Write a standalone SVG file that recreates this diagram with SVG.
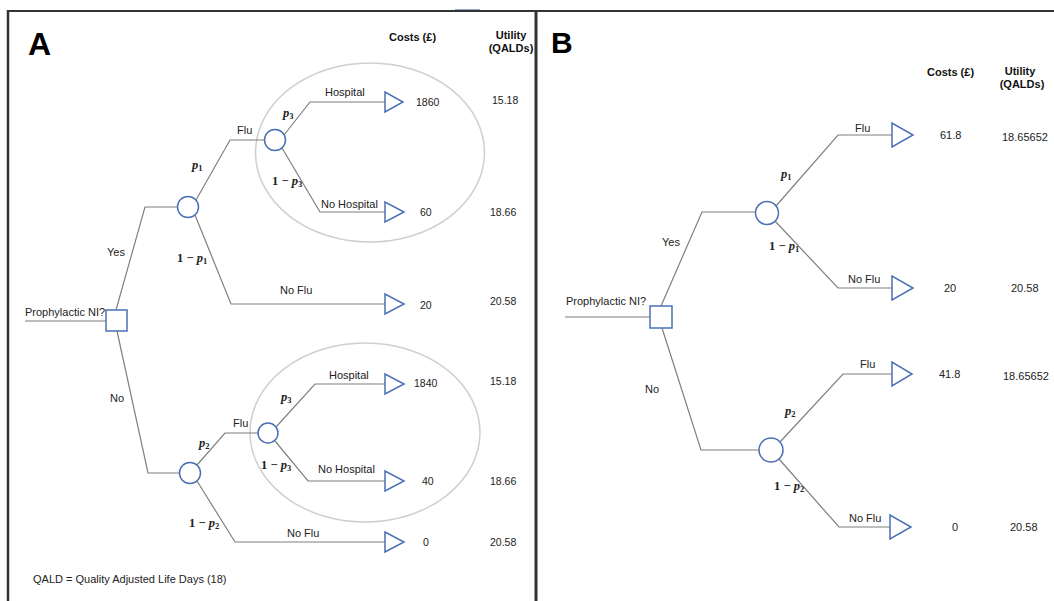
<svg xmlns="http://www.w3.org/2000/svg" width="1054" height="601" viewBox="0 0 1054 601">
<style>
.t{font-family:"Liberation Sans",Arial,sans-serif;font-size:11px;fill:#222}
.v{font-family:"Liberation Sans",Arial,sans-serif;font-size:10.5px;fill:#222}
.h{font-family:"Liberation Sans",Arial,sans-serif;font-size:11px;font-weight:bold;fill:#111}
.big{font-family:"Liberation Sans",Arial,sans-serif;font-weight:bold;fill:#000}
.m{font-family:"Liberation Serif","DejaVu Serif",serif;font-size:12.5px;font-weight:bold;fill:#222}
.m .i{font-style:italic}
.m .s{font-size:8.5px}
.c{fill:none;stroke:#7f7f7f;stroke-width:1.2}
.n{fill:#fff;stroke:#4a6fb5;stroke-width:1.5}
.e{fill:none;stroke:#cfcfcf;stroke-width:1.5}
.b{stroke:#333;fill:none}
</style>

<g id="frame">
<rect x="0" y="0" width="1054" height="601" fill="#fff"/>
<line class="b" x1="8" y1="11" x2="1054" y2="11" stroke-width="2"/>
<line class="b" x1="8" y1="10" x2="8" y2="601" stroke-width="2.5"/>
<line class="b" x1="536" y1="10" x2="536" y2="601" stroke-width="3"/>
<line x1="455" y1="9.5" x2="480" y2="9.5" stroke="#4a6fb5" stroke-width="1" opacity="0.6"/>
</g>

<!-- Panel A -->
<g id="A-ellipses">
<ellipse class="e" cx="370" cy="152.5" rx="114.5" ry="89.5"/>
<ellipse class="e" cx="365" cy="432.5" rx="115" ry="89.5"/>
</g>

<g id="A-connectors">
<polyline class="c" points="25,321 106,321"/>
<polyline class="c" points="116,310 145,207 177.5,207"/>
<polyline class="c" points="196,200 230,140 264.5,140"/>
<polyline class="c" points="284,135 310,102 385,102"/>
<polyline class="c" points="282,148 320,212 385,212"/>
<polyline class="c" points="195,215 231,304 385,304"/>
<polyline class="c" points="117,331 148,473 179.5,473"/>
<polyline class="c" points="197,465 225,433 258,433"/>
<polyline class="c" points="276,427 315,384 385,384"/>
<polyline class="c" points="275,441 308,481 385,481"/>
<polyline class="c" points="197,481 235,542 385,542"/>
</g>

<g id="A-decision"><rect class="n" x="106" y="310" width="21" height="21"/></g>
<g id="A-chance1"><circle class="n" cx="188" cy="207" r="10.5"/></g>
<g id="A-chance2"><circle class="n" cx="275" cy="140" r="10.5"/></g>
<g id="A-chance3"><circle class="n" cx="190" cy="473" r="10.5"/></g>
<g id="A-chance4"><circle class="n" cx="268" cy="433" r="10"/></g>
<g id="A-term1"><polygon class="n" points="385,92 385,112 403,102"/></g>
<g id="A-term2"><polygon class="n" points="385,202 385,222 404,212"/></g>
<g id="A-term3"><polygon class="n" points="385,294 385,314 404,304"/></g>
<g id="A-term4"><polygon class="n" points="385,374 385,394 404,384"/></g>
<g id="A-term5"><polygon class="n" points="385,471 385,491 404,481"/></g>
<g id="A-term6"><polygon class="n" points="385,532 385,552 404,542"/></g>

<g id="A-labels">
<text class="big" x="28" y="55" font-size="32">A</text>
<text class="h" x="389" y="41">Costs (£)</text>
<text class="h" x="511" y="39" text-anchor="middle">Utility</text>
<text class="h" x="511" y="52" text-anchor="middle">(QALDs)</text>
<text class="t" x="25" y="316">Prophylactic NI?</text>
<text class="t" x="107" y="256">Yes</text>
<text class="t" x="110" y="402">No</text>
<text class="t" x="237" y="134">Flu</text>
<text class="m" x="192" y="169"><tspan class="i">p</tspan><tspan class="s" dy="2">1</tspan></text>
<text class="m" x="177" y="262">1 − <tspan class="i">p</tspan><tspan class="s" dy="2">1</tspan></text>
<text class="t" x="325" y="96">Hospital</text>
<text class="m" x="283" y="117"><tspan class="i">p</tspan><tspan class="s" dy="2">3</tspan></text>
<text class="m" x="272" y="185">1 − <tspan class="i">p</tspan><tspan class="s" dy="2">3</tspan></text>
<text class="t" x="321" y="208">No Hospital</text>
<text class="t" x="280" y="294">No Flu</text>
<text class="v" x="416" y="106">1860</text>
<text class="v" x="492" y="104">15.18</text>
<text class="v" x="420" y="216">60</text>
<text class="v" x="490" y="216">18.66</text>
<text class="v" x="420" y="309">20</text>
<text class="v" x="490" y="305">20.58</text>
<text class="t" x="233" y="427">Flu</text>
<text class="m" x="199" y="447"><tspan class="i">p</tspan><tspan class="s" dy="2">2</tspan></text>
<text class="t" x="329" y="379">Hospital</text>
<text class="m" x="281" y="401"><tspan class="i">p</tspan><tspan class="s" dy="2">3</tspan></text>
<text class="m" x="261" y="469">1 − <tspan class="i">p</tspan><tspan class="s" dy="2">3</tspan></text>
<text class="t" x="318" y="473">No Hospital</text>
<text class="m" x="189" y="527">1 − <tspan class="i">p</tspan><tspan class="s" dy="2">2</tspan></text>
<text class="t" x="287" y="537">No Flu</text>
<text class="v" x="414" y="387">1840</text>
<text class="v" x="490" y="385">15.18</text>
<text class="v" x="422" y="485">40</text>
<text class="v" x="490" y="485">18.66</text>
<text class="v" x="423" y="546">0</text>
<text class="v" x="490" y="546">20.58</text>
<text class="t" x="33" y="583">QALD = Quality Adjusted Life Days (18)</text>
</g>

<!-- Panel B -->
<g id="B-connectors">
<polyline class="c" points="565,317 650,317"/>
<polyline class="c" points="661,306 702,212 755.5,212"/>
<polyline class="c" points="776,206 838,135 892,135"/>
<polyline class="c" points="775,221 838,288 892,288"/>
<polyline class="c" points="662,328 701,450 759,450"/>
<polyline class="c" points="780,442 843,374 892,374"/>
<polyline class="c" points="779,459 839,527 890,527"/>
</g>

<g id="B-decision"><rect class="n" x="650" y="306" width="22" height="22"/></g>
<g id="B-chance1"><circle class="n" cx="767" cy="213" r="11.5"/></g>
<g id="B-chance2"><circle class="n" cx="771" cy="450" r="12"/></g>
<g id="B-term1"><polygon class="n" points="892,123 892,147 913,135"/></g>
<g id="B-term2"><polygon class="n" points="892,276 892,300 913,288"/></g>
<g id="B-term3"><polygon class="n" points="892,362 892,386 912,374"/></g>
<g id="B-term4"><polygon class="n" points="890,515 890,539 911,527"/></g>

<g id="B-labels">
<text class="big" x="551" y="53" font-size="30">B</text>
<text class="h" x="927" y="76">Costs (£)</text>
<text class="h" x="1020" y="75" text-anchor="middle">Utility</text>
<text class="h" x="1022" y="88" text-anchor="middle">(QALDs)</text>
<text class="t" x="566" y="305">Prophylactic NI?</text>
<text class="t" x="662" y="246">Yes</text>
<text class="t" x="645" y="393">No</text>
<text class="t" x="855" y="132">Flu</text>
<text class="m" x="781" y="178"><tspan class="i">p</tspan><tspan class="s" dy="2">1</tspan></text>
<text class="m" x="769" y="250">1 − <tspan class="i">p</tspan><tspan class="s" dy="2">1</tspan></text>
<text class="t" x="848" y="283">No Flu</text>
<text class="t" x="940" y="139">61.8</text>
<text class="t" x="1002" y="141">18.65652</text>
<text class="t" x="944" y="292">20</text>
<text class="t" x="1011" y="292">20.58</text>
<text class="t" x="860" y="368">Flu</text>
<text class="m" x="785" y="415"><tspan class="i">p</tspan><tspan class="s" dy="2">2</tspan></text>
<text class="m" x="774" y="490">1 − <tspan class="i">p</tspan><tspan class="s" dy="2">2</tspan></text>
<text class="t" x="849" y="522">No Flu</text>
<text class="t" x="939" y="378">41.8</text>
<text class="t" x="1003" y="380">18.65652</text>
<text class="t" x="952" y="531">0</text>
<text class="t" x="1010" y="531">20.58</text>
</g>
</svg>
